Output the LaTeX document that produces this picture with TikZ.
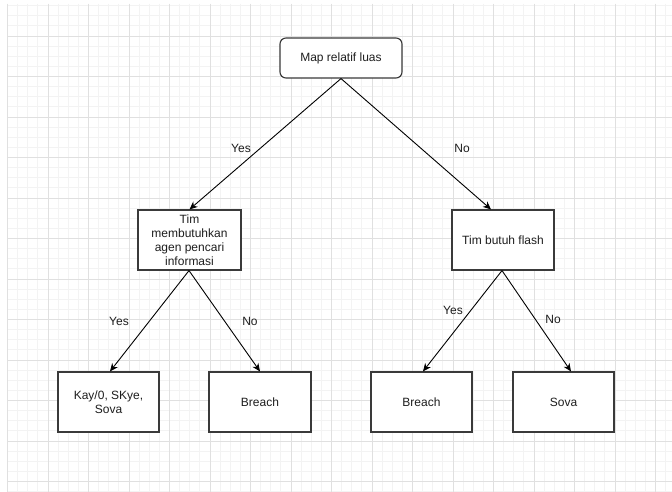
\documentclass[tikz,border=0pt]{standalone}
\usepackage{fontspec}
\setmainfont{Liberation Sans}
\usetikzlibrary{arrows.meta}
\definecolor{minorg}{HTML}{F3F3F3}
\definecolor{majorg}{HTML}{E0E0E0}
\definecolor{boxline}{HTML}{3A3A3A}
\definecolor{txt}{HTML}{1E1E1E}
\tikzset{
  minorgrid/.style={draw=minorg, line width=0.8pt},
  majorgrid/.style={draw=majorg, line width=0.8pt},
  box/.style={draw=boxline, line width=1.15pt, fill=white, inner sep=0pt,
    minimum width=101pt, minimum height=60pt, align=center, text=txt,
    font=\fontsize{12}{14}\selectfont},
  rootbox/.style={box, rounded corners=6pt, minimum width=122pt, minimum height=40pt},
  conn/.style={draw=black, line width=0.9pt, -{Stealth[length=8pt,width=7pt,inset=2.5pt]}},
  lbl/.style={text=txt, font=\fontsize{12}{14}\selectfont, inner sep=0pt}
}
\begin{document}
\begin{tikzpicture}[x=1pt, y=-1pt]
\useasboundingbox (0,0) rectangle (672,492);
\fill[white] (0,0) rectangle (672,492);
% grid
\foreach \i in {0,...,65} { \draw[minorgrid] ({7.5+10.125*\i},4) -- ({7.5+10.125*\i},492); }
\foreach \j in {1,...,49} { \draw[minorgrid] (7.5,{-4.5+10.125*\j}) -- (672,{-4.5+10.125*\j}); }
\foreach \i in {0,...,16} { \draw[majorgrid] ({7.5+40.5*\i},4) -- ({7.5+40.5*\i},492); }
\foreach \j in {1,...,12} { \draw[majorgrid] (7.5,{-4.5+40.5*\j}) -- (672,{-4.5+40.5*\j}); }
% nodes
\node[rootbox] (root) at (341,58) {Map relatif luas};
\node[box, minimum width=103pt] (q1) at (189.5,240) {Tim\\membutuhkan\\agen pencari\\informasi};
\node[box, minimum width=102pt] (q2) at (503,240) {Tim butuh flash};
\node[box] (a1) at (108.5,402) {Kay/0, SKye,\\Sova};
\node[box, minimum width=102pt] (a2) at (260,402) {Breach};
\node[box] (a3) at (421.5,402) {Breach};
\node[box] (a4) at (563.5,402) {Sova};
% connectors
\draw[conn] (root.south) -- (q1.north);
\draw[conn] (root.south) -- ([xshift=-12pt]q2.north);
\draw[conn] ([xshift=-0.5pt]q1.south) -- ([xshift=1.5pt]a1.north);
\draw[conn] ([xshift=-0.5pt]q1.south) -- (a2.north);
\draw[conn] ([xshift=-1pt]q2.south) -- ([xshift=1.5pt]a3.north);
\draw[conn] ([xshift=-1pt]q2.south) -- ([xshift=7.5pt]a4.north);
% labels
\node[lbl] (l1) at (241,148) {Yes};
\node[lbl] (l2) at (462,148) {No};
\node[lbl] (l3) at (119,321) {Yes};
\node[lbl] (l4) at (250,321) {No};
\node[lbl] (l5) at (453,310) {Yes};
\node[lbl] (l6) at (553,319) {No};
\end{tikzpicture}
\end{document}
